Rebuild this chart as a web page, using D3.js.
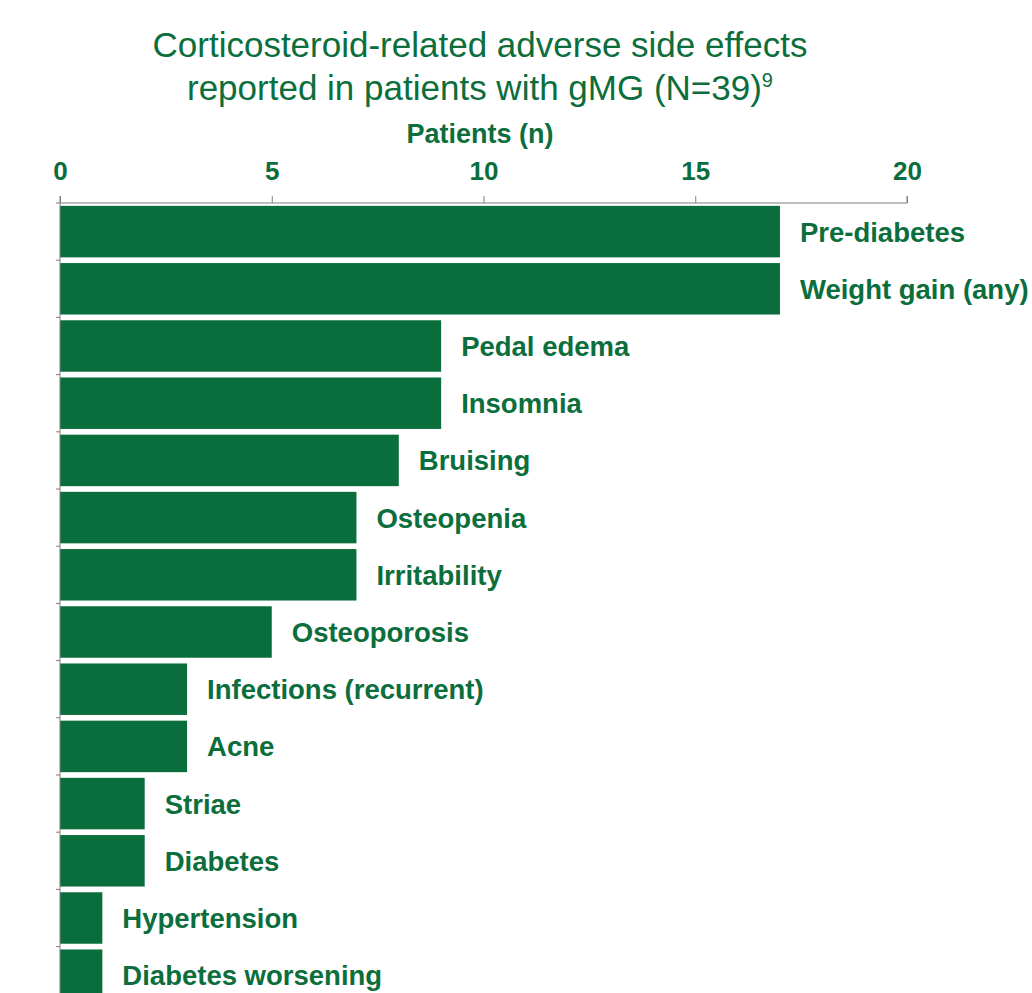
<!DOCTYPE html>
<html><head><meta charset="utf-8">
<script src="https://cdn.jsdelivr.net/npm/d3@7"></script>
<style>body{margin:0;background:#fff}svg{display:block}</style>
</head><body>
<script>
const categories = ["Pre-diabetes","Weight gain (any)","Pedal edema","Insomnia","Bruising","Osteopenia","Irritability","Osteoporosis","Infections (recurrent)","Acne","Striae","Diabetes","Hypertension","Diabetes worsening"];
const values = [17,17,9,9,8,7,7,5,3,3,2,2,1,1];
const tickValues = [0,5,10,15,20];
const titleLines = ["Corticosteroid-related adverse side effects","reported in patients with gMG (N=39)"];
const axisTitle = "Patients (n)";

const W=1032,H=993, green="#0a6e3c", textGreen="#0b6e3c";
const svg=d3.select("body").append("svg").attr("width",W).attr("height",H);
const font="'Liberation Sans', Arial, sans-serif";
const plotLeft=60, plotTop=203;
const x=d3.scaleLinear().domain([0,20]).range([plotLeft,907]);
const y=d3.scaleBand().domain(categories).range([plotTop, plotTop+57.2*categories.length]).paddingInner(0.1).paddingOuter(0.05);

// title
const t=svg.append("text").attr("x",480).attr("text-anchor","middle").attr("font-family",font).attr("font-size",35).attr("fill",textGreen);
t.append("tspan").attr("x",480).attr("y",57).text(titleLines[0]);
t.append("tspan").attr("x",480).attr("y",100).text(titleLines[1]);
t.append("tspan").attr("dy",-13).attr("font-size",20).text("9");

svg.append("text").attr("x",480).attr("y",143).attr("text-anchor","middle").attr("font-family",font).attr("font-weight","bold").attr("font-size",27).attr("fill",textGreen).text(axisTitle);

// bars
svg.selectAll("rect.bar").data(values).join("rect").attr("class","bar")
 .attr("x",x(0)).attr("y",(d,i)=>y(categories[i])).attr("width",d=>x(d)-x(0)).attr("height",y.bandwidth()).attr("fill",green);

svg.selectAll("text.lab").data(values).join("text").attr("class","lab")
 .attr("x",d=>x(d)+20).attr("y",(d,i)=>y(categories[i])+y.bandwidth()/2).attr("dy","0.36em")
 .attr("font-family",font).attr("font-weight","bold").attr("font-size",27.5).attr("fill",textGreen)
 .text((d,i)=>categories[i]);

// top axis
const ax=svg.append("g").attr("transform",`translate(0,${plotTop})`).call(d3.axisTop(x).tickValues(tickValues).tickSize(7).tickPadding(16));
ax.select(".domain").attr("stroke","#7f7f7f").attr("d",`M${plotLeft},${-7}V0H907V-7`);
ax.selectAll(".tick line").attr("stroke","#7f7f7f");
ax.selectAll(".tick text").attr("font-family",font).attr("font-weight","bold").attr("font-size",26).attr("fill",textGreen);

// left axis
const boundaries = categories.map(c=>y(c)-y.step()*y.paddingInner()/2);
const g2=svg.append("g");
g2.append("line").attr("x1",plotLeft).attr("x2",plotLeft).attr("y1",plotTop).attr("y2",H).attr("stroke","#7f7f7f");
g2.selectAll("line.t").data(boundaries).join("line").attr("class","t").attr("x1",plotLeft-4).attr("x2",plotLeft).attr("y1",d=>d).attr("y2",d=>d).attr("stroke","#7f7f7f");
</script>
</body></html>
